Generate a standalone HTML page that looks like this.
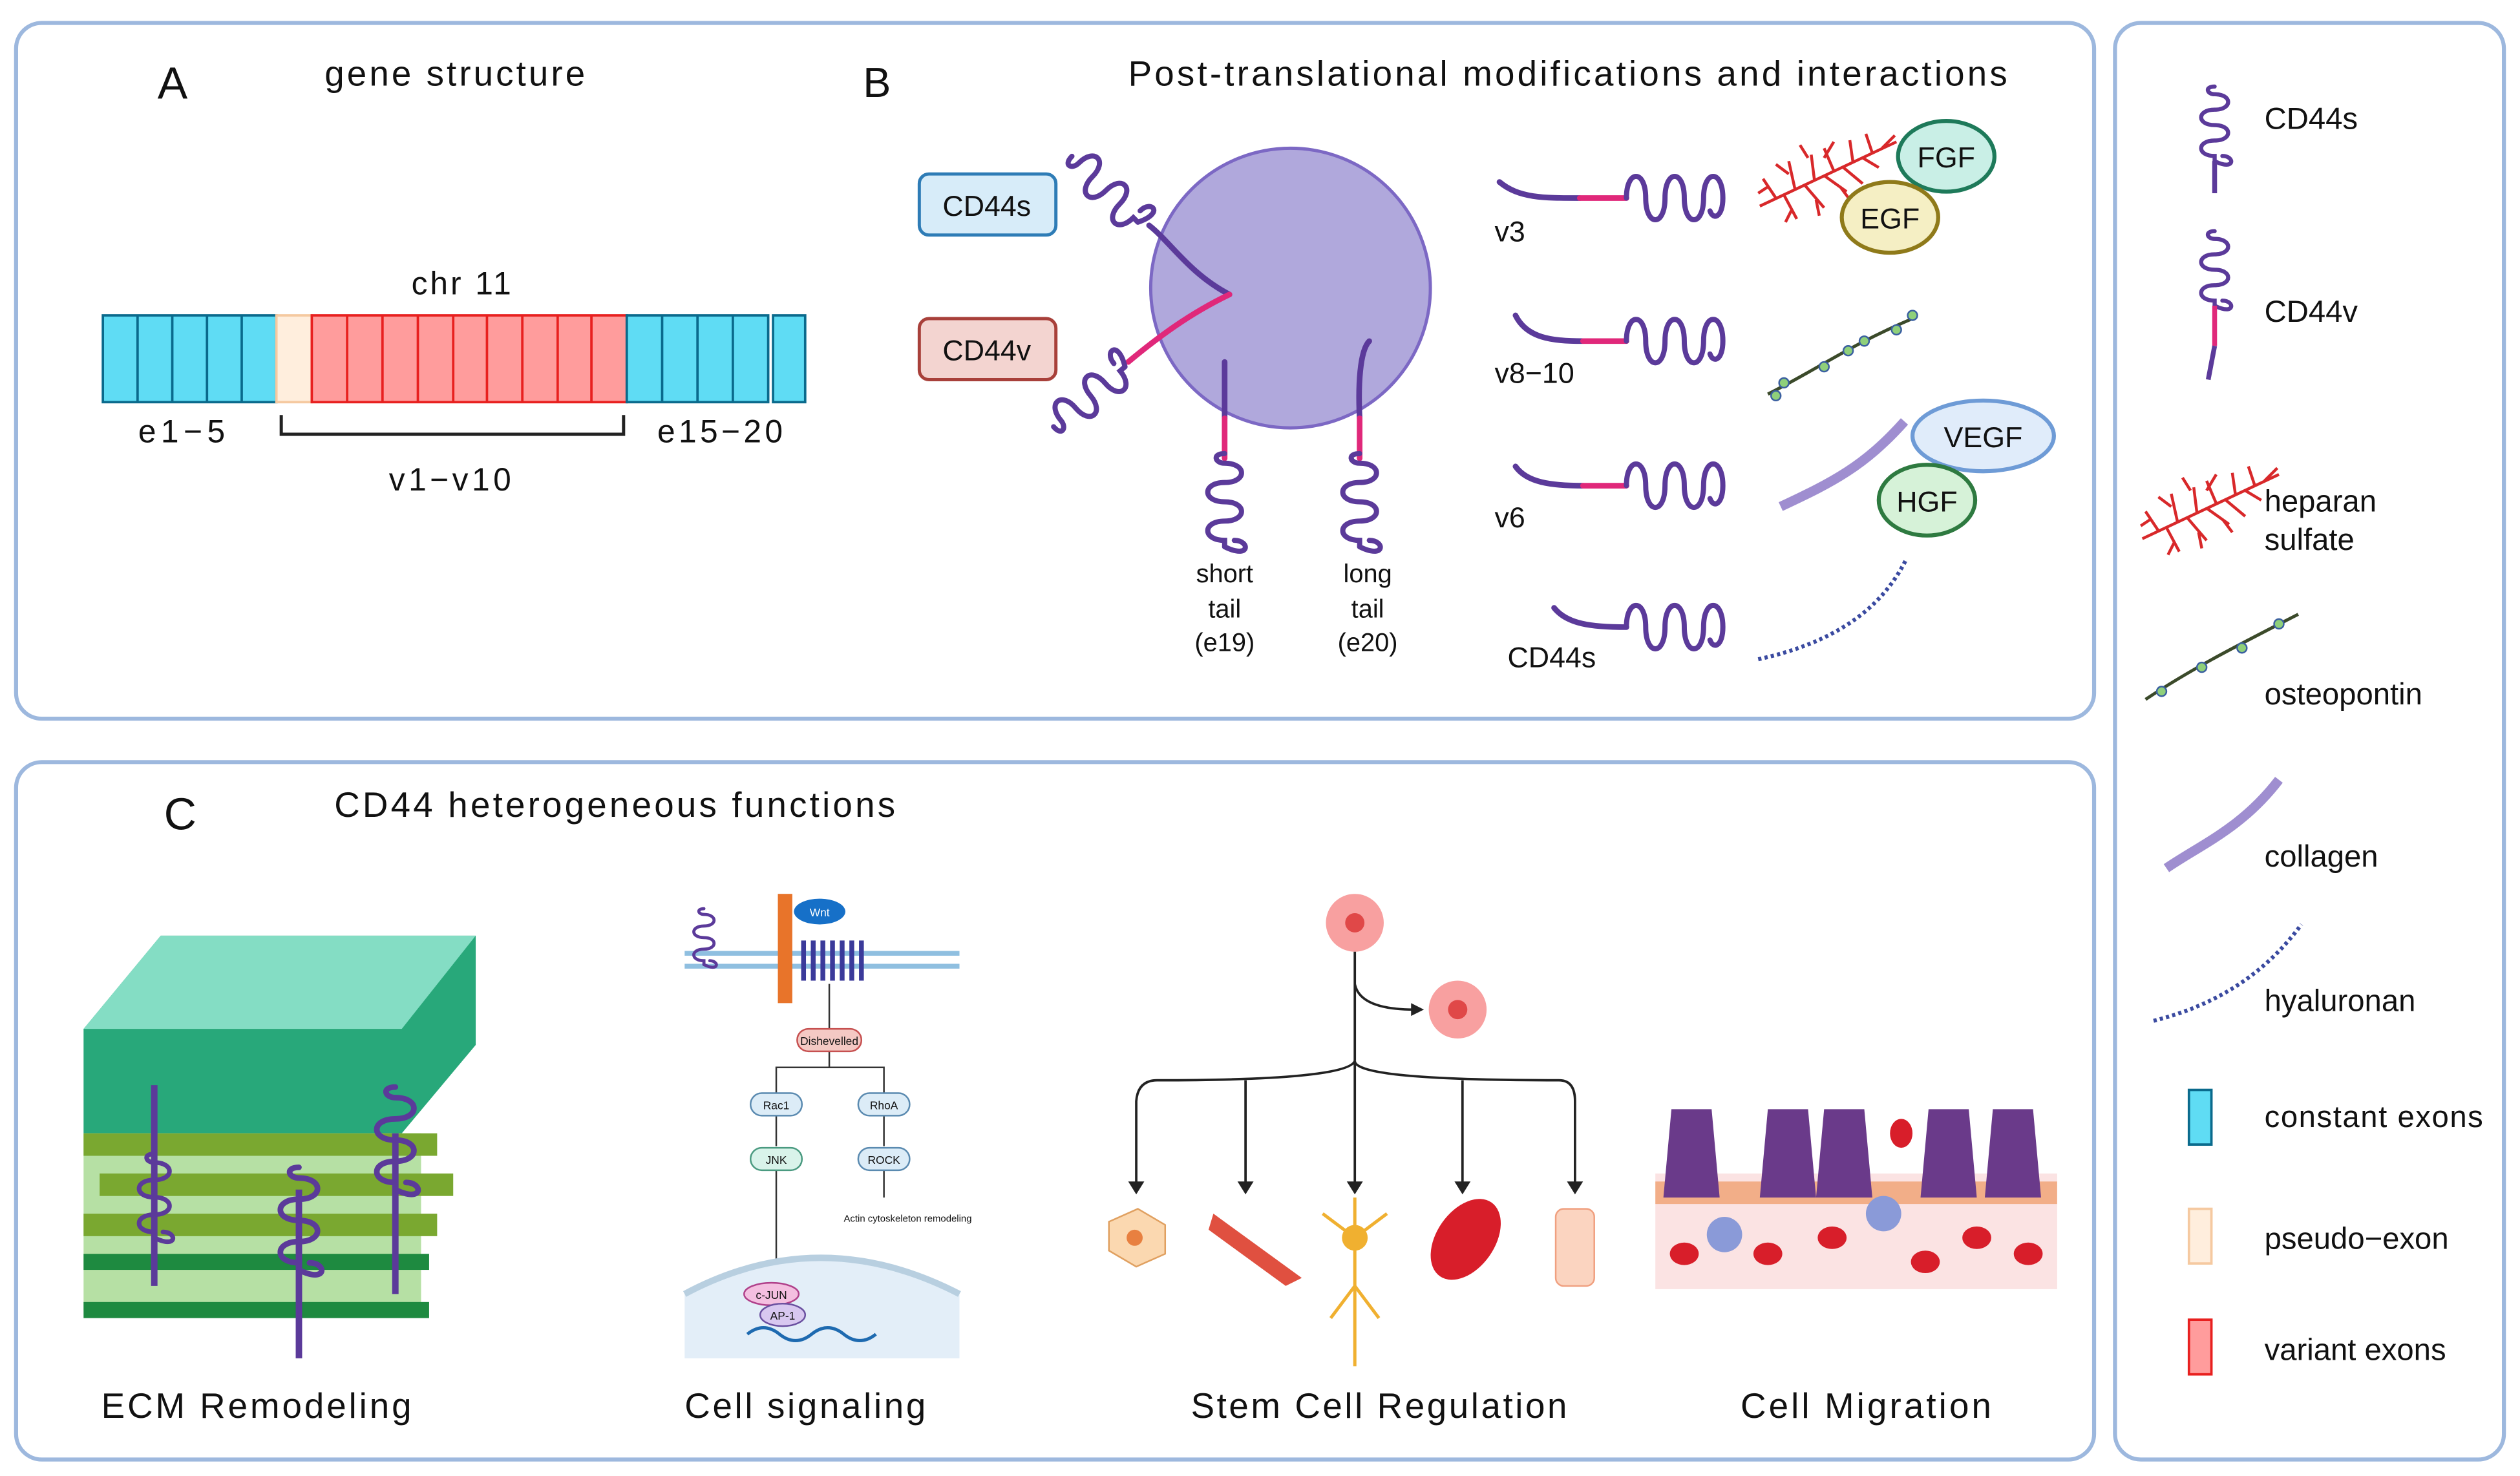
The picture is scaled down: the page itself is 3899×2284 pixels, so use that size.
<!DOCTYPE html>
<html><head><meta charset="utf-8"><style>
html,body{margin:0;padding:0;background:#fff;}
svg{display:block;}
text{font-family:"Liberation Sans",sans-serif;fill:#111;}
</style></head><body>
<svg width="3899" height="2284" viewBox="0 0 1568 918" xmlns="http://www.w3.org/2000/svg">
<defs>
<g id="sq" fill="none" stroke="#5b3a9a" stroke-width="3.2" stroke-linecap="round">
<path d="M0,0 V-4 c-14,0 -14,-12 0,-12 c14,0 14,-12 0,-12 c-14,0 -14,-12 0,-12 c14,0 14,-12 0,-12 c-6,0 -8,-6 0,-6"/>
<path d="M6,-4 c10,0 10,12 -6,4" />
</g>
<g id="hz" fill="none" stroke="#5b3a9a" stroke-width="3.2" stroke-linecap="round">
<path d="M0,0 c0,-18 12,-18 12,0 c0,18 12,18 12,0 c0,-18 12,-18 12,0 c0,18 12,18 12,0 c0,-18 12,-18 12,0 c0,12 -6,14 -8,8"/>
</g>
<g id="hep" stroke="#d8282a" stroke-width="1.8" fill="none">
<path d="M0,40 L85,0 M10,35 l-8,-12 M15,33 l8,15 M22,30 l-4,-18 M28,27 l12,14 M34,24 l-2,-16 M40,21 l14,10 M46,18 l-6,-14 M52,16 l12,10 M58,13 l-2,-14 M64,10 l10,6 M70,7 l-4,-12 M76,4 l8,-8 M18,20 l-8,-6 M30,10 l-5,-8 M40,10 l6,-10 M5,28 l-6,4 M20,42 l-4,8 M35,36 l2,10 M50,28 l6,8"/>
</g>
</defs>
<!-- panels -->
<rect x="10" y="14" width="1293" height="433" rx="16" fill="none" stroke="#9db8de" stroke-width="2.5"/>
<rect x="10" y="474" width="1293" height="434" rx="16" fill="none" stroke="#9db8de" stroke-width="2.5"/>
<rect x="1316" y="14" width="242" height="894" rx="16" fill="none" stroke="#9db8de" stroke-width="2.5"/>

<!-- A -->
<text x="98" y="61" font-size="28">A</text>
<text x="202" y="53" font-size="22" textLength="162">gene structure</text>
<text x="256" y="183" font-size="20" textLength="62">chr 11</text>
<g stroke="#0a6a8c" stroke-width="1.5">
<rect x="64" y="196" width="108" height="54" fill="#5fdcf4"/>
<rect x="172" y="196" width="22" height="54" fill="#ffeedd" stroke="#f5c9a0"/>
<rect x="194" y="196" width="196" height="54" fill="#ff9c9c" stroke="#e8201f"/>
<rect x="390" y="196" width="88" height="54" fill="#5fdcf4"/>
<rect x="481" y="196" width="20" height="54" fill="#5fdcf4"/>
</g>
<g stroke="#0a6a8c" stroke-width="1.5">
<line x1="85.6" y1="196" x2="85.6" y2="250"/><line x1="107.2" y1="196" x2="107.2" y2="250"/><line x1="128.8" y1="196" x2="128.8" y2="250"/><line x1="150.4" y1="196" x2="150.4" y2="250"/>
<line x1="412" y1="196" x2="412" y2="250"/><line x1="434" y1="196" x2="434" y2="250"/><line x1="456" y1="196" x2="456" y2="250"/>
</g>
<g stroke="#e8201f" stroke-width="1.5">
<line x1="216" y1="196" x2="216" y2="250"/><line x1="238" y1="196" x2="238" y2="250"/><line x1="260" y1="196" x2="260" y2="250"/><line x1="282" y1="196" x2="282" y2="250"/><line x1="303" y1="196" x2="303" y2="250"/><line x1="325" y1="196" x2="325" y2="250"/><line x1="347" y1="196" x2="347" y2="250"/><line x1="368" y1="196" x2="368" y2="250"/>
</g>
<path d="M175,258 V270 H388 V258" fill="none" stroke="#222" stroke-width="2"/>
<text x="86" y="275" font-size="20" textLength="54">e1−5</text>
<text x="409" y="275" font-size="20" textLength="78">e15−20</text>
<text x="242" y="305" font-size="20" textLength="76">v1−v10</text>

<!-- B -->
<text x="537" y="60" font-size="26">B</text>
<text x="702" y="53" font-size="22" textLength="547">Post-translational modifications and interactions</text>
<rect x="572" y="108" width="85" height="38" rx="6" fill="#d7ecf9" stroke="#2e7cb6" stroke-width="2"/>
<text x="614" y="134" font-size="18" text-anchor="middle">CD44s</text>
<rect x="572" y="198" width="85" height="38" rx="6" fill="#f3d4d0" stroke="#a8403a" stroke-width="2"/>
<text x="614" y="224" font-size="18" text-anchor="middle">CD44v</text>
<circle cx="803" cy="179" r="87" fill="#b0a8dc" stroke="#7c68c4" stroke-width="2"/>
<g fill="none" stroke-width="3.5" stroke-linecap="round">
<path d="M765,183 C740,170 728,150 715,140" stroke="#5b3a9a"/>
<path d="M765,183 C740,195 720,210 702,225" stroke="#e0287a"/>
<path d="M762,225 V260" stroke="#5b3a9a"/><path d="M762,260 V285" stroke="#e0287a"/>
<path d="M852,212 C846,218 845,240 846,260" stroke="#5b3a9a"/><path d="M846,260 V285" stroke="#e0287a"/>
</g>
<use href="#sq" transform="translate(708,138) rotate(-45)"/>
<use href="#sq" transform="translate(700,228) rotate(-130)"/>
<use href="#sq" transform="translate(762,340)"/>
<use href="#sq" transform="translate(846,340)"/>
<text x="762" y="362" font-size="16" text-anchor="middle">short</text>
<text x="762" y="384" font-size="16" text-anchor="middle">tail</text>
<text x="762" y="405" font-size="16" text-anchor="middle">(e19)</text>
<text x="851" y="362" font-size="16" text-anchor="middle">long</text>
<text x="851" y="384" font-size="16" text-anchor="middle">tail</text>
<text x="851" y="405" font-size="16" text-anchor="middle">(e20)</text>

<g fill="none" stroke-width="3.5" stroke-linecap="round">
<path d="M933,113 C945,123 960,123 983,123" stroke="#5b3a9a"/><path d="M983,123 H1012" stroke="#e0287a"/>
<path d="M943,196 C950,210 965,212 985,212" stroke="#5b3a9a"/><path d="M985,212 H1012" stroke="#e0287a"/>
<path d="M943,290 C950,300 965,302 985,302" stroke="#5b3a9a"/><path d="M985,302 H1012" stroke="#e0287a"/>
<path d="M967,378 C975,388 990,390 1012,390" stroke="#5b3a9a"/>
</g>
<use href="#hz" transform="translate(1012,123)"/>
<use href="#hz" transform="translate(1012,212)"/>
<use href="#hz" transform="translate(1012,302)"/>
<use href="#hz" transform="translate(1012,390)"/>
<text x="930" y="150" font-size="18">v3</text>
<text x="930" y="238" font-size="18">v8−10</text>
<text x="930" y="328" font-size="18">v6</text>
<text x="938" y="415" font-size="18">CD44s</text>
<use href="#hep" transform="translate(1095,88)"/>
<ellipse cx="1211" cy="97" rx="30" ry="22" fill="#c9efe6" stroke="#1e7a5a" stroke-width="2.5"/>
<text x="1211" y="104" font-size="18" text-anchor="middle">FGF</text>
<ellipse cx="1176" cy="135" rx="30" ry="22" fill="#f5efc4" stroke="#8f7a1a" stroke-width="2.5"/>
<text x="1176" y="142" font-size="18" text-anchor="middle">EGF</text>
<path d="M1100,245 C1130,230 1150,215 1190,198" stroke="#3b4a2a" stroke-width="2" fill="none"/>
<g fill="#8fd07a" stroke="#3a5fa0" stroke-width="1"><circle cx="1110" cy="238" r="3"/><circle cx="1135" cy="228" r="3"/><circle cx="1160" cy="212" r="3"/><circle cx="1180" cy="205" r="3"/><circle cx="1150" cy="218" r="3"/><circle cx="1105" cy="246" r="3"/><circle cx="1190" cy="196" r="3"/></g>
<path d="M1108,315 C1140,300 1160,290 1185,262" stroke="#9f8ed0" stroke-width="6" fill="none"/>
<ellipse cx="1234" cy="271" rx="44" ry="22" fill="#e0ecfa" stroke="#6e9bd6" stroke-width="2.5"/>
<text x="1234" y="278" font-size="18" text-anchor="middle">VEGF</text>
<ellipse cx="1199" cy="311" rx="30" ry="22" fill="#d6f2d8" stroke="#2e7a40" stroke-width="2.5"/>
<text x="1199" y="318" font-size="18" text-anchor="middle">HGF</text>
<path d="M1094,410 C1140,400 1170,380 1186,348" stroke="#3a4aa0" stroke-width="2.5" stroke-dasharray="2,2" fill="none"/>

<!-- legend -->
<use href="#sq" transform="translate(1378,100) scale(0.8)"/>
<path d="M1378,100 V120" stroke="#5b3a9a" stroke-width="3"/>
<text x="1409" y="80" font-size="19">CD44s</text>
<use href="#sq" transform="translate(1378,190) scale(0.8)"/>
<path d="M1378,190 V215" stroke="#e0287a" stroke-width="3"/><path d="M1378,215 L1374,236" stroke="#5b3a9a" stroke-width="3"/>
<text x="1409" y="200" font-size="19">CD44v</text>
<use href="#hep" transform="translate(1333,295)"/>
<text x="1409" y="318" font-size="19">heparan</text>
<text x="1409" y="342" font-size="19">sulfate</text>
<path d="M1335,435 C1365,415 1395,400 1430,382" stroke="#3b4a2a" stroke-width="2" fill="none"/>
<g fill="#8fd07a" stroke="#3a5fa0"><circle cx="1345" cy="430" r="3"/><circle cx="1370" cy="415" r="3"/><circle cx="1395" cy="403" r="3"/><circle cx="1418" cy="388" r="3"/></g>
<text x="1409" y="438" font-size="19">osteopontin</text>
<path d="M1348,540 C1370,525 1395,515 1418,485" stroke="#9f8ed0" stroke-width="6" fill="none"/>
<text x="1409" y="539" font-size="19">collagen</text>
<path d="M1340,635 C1380,625 1410,605 1432,575" stroke="#3a4aa0" stroke-width="2.5" stroke-dasharray="2,2" fill="none"/>
<text x="1409" y="629" font-size="19">hyaluronan</text>
<rect x="1362" y="678" width="14" height="34" fill="#5fdcf4" stroke="#0a6a8c" stroke-width="1.5"/>
<text x="1409" y="701" font-size="19" textLength="136">constant exons</text>
<rect x="1362" y="752" width="14" height="34" fill="#ffeedd" stroke="#f5c9a0" stroke-width="1.5"/>
<text x="1409" y="777" font-size="19">pseudo−exon</text>
<rect x="1362" y="821" width="14" height="34" fill="#ff9c9c" stroke="#e8201f" stroke-width="1.5"/>
<text x="1409" y="846" font-size="19">variant exons</text>

<!-- C -->
<text x="102" y="516" font-size="28">C</text>
<text x="208" y="508" font-size="22" textLength="349">CD44 heterogeneous functions</text>
<path d="M52,640 L100,582 H296 V650 L250,705 H52 Z" fill="#28a87a"/>
<path d="M52,640 L100,582 H296 L250,640 Z" fill="#8ee2cc" opacity="0.9"/>
<rect x="52" y="705" width="210" height="110" fill="#b6e0a4"/>
<g fill="#7aa830"><rect x="52" y="705" width="220" height="14"/><rect x="62" y="730" width="220" height="14"/><rect x="52" y="755" width="220" height="14"/></g>
<g fill="#1e8a40"><rect x="52" y="780" width="215" height="10"/><rect x="52" y="810" width="215" height="10"/></g>
<g fill="none" stroke="#5b3a9a" stroke-width="4"><path d="M96,675 V800"/><path d="M186,740 V845"/><path d="M246,705 V805"/></g>
<use href="#sq" transform="translate(96,770) scale(0.9)"/><use href="#sq" transform="translate(186,790) scale(1.1)"/><use href="#sq" transform="translate(246,740) scale(1.1)"/>
<text x="63" y="882" font-size="22" textLength="193">ECM Remodeling</text>
<path d="M426,593 H597 M426,601 H597" stroke="#8fbfe0" stroke-width="3"/>
<rect x="484" y="556" width="9" height="68" fill="#e8742a"/>
<ellipse cx="510" cy="567" rx="16" ry="8" fill="#1670c8"/><text x="510" y="570" font-size="7" text-anchor="middle" style="fill:#fff">Wnt</text>
<path d="M500,585 v25 M506,585 v25 M512,585 v25 M518,585 v25 M524,585 v25 M530,585 v25 M536,585 v25" stroke="#3b3a9a" stroke-width="3"/>
<use href="#sq" transform="translate(438,600) scale(0.6)"/>
<path d="M516,612 V640 M516,654 V664 H483 V680 M516,664 H550 V680 M483,694 V713 M550,694 V713 M483,728 V800 M550,728 V745" stroke="#333" stroke-width="1" fill="none"/>
<rect x="496" y="640" width="40" height="14" rx="7" fill="#f4c9c4" stroke="#c65050"/><text x="516" y="650" font-size="7" text-anchor="middle">Dishevelled</text>
<rect x="467" y="680" width="32" height="14" rx="7" fill="#dcecf7" stroke="#5a8ab0"/><text x="483" y="690" font-size="7" text-anchor="middle">Rac1</text>
<rect x="534" y="680" width="32" height="14" rx="7" fill="#dcecf7" stroke="#5a8ab0"/><text x="550" y="690" font-size="7" text-anchor="middle">RhoA</text>
<rect x="467" y="714" width="32" height="14" rx="7" fill="#d9f3ea" stroke="#4a9a80"/><text x="483" y="724" font-size="7" text-anchor="middle">JNK</text>
<rect x="534" y="714" width="32" height="14" rx="7" fill="#dcecf7" stroke="#5a8ab0"/><text x="550" y="724" font-size="7" text-anchor="middle">ROCK</text>
<text x="525" y="760" font-size="6">Actin cytoskeleton remodeling</text>
<path d="M426,805 Q510,760 597,805 V845 H426 Z" fill="#e3eef8"/>
<path d="M426,805 Q510,760 597,805" stroke="#b8cfe0" stroke-width="4" fill="none"/>
<ellipse cx="480" cy="805" rx="17" ry="7" fill="#f4bfe0" stroke="#b0408a"/><text x="480" y="808" font-size="7" text-anchor="middle">c-JUN</text>
<ellipse cx="487" cy="818" rx="14" ry="7" fill="#d8c8f0" stroke="#6a50a0"/><text x="487" y="821" font-size="7" text-anchor="middle">AP-1</text>
<path d="M465,830 q10,-8 20,0 t20,0 t20,0 t20,0" stroke="#1e6ab0" stroke-width="2" fill="none"/>
<text x="426" y="882" font-size="22" textLength="150">Cell signaling</text>
<circle cx="843" cy="574" r="18" fill="#f8a0a0"/><circle cx="843" cy="574" r="6" fill="#e04848"/>
<circle cx="907" cy="628" r="18" fill="#f8a0a0"/><circle cx="907" cy="628" r="6" fill="#e04848"/>
<g stroke="#222" stroke-width="1.5" fill="none">
<path d="M843,592 V660 M843,612 Q846,628 880,628"/>
<path d="M843,660 Q838,672 720,672 Q708,672 707,685 V738 M843,660 Q843,672 970,672 Q980,672 980,685 V738 M775,672 V738 M843,660 V738 M910,672 V738"/>
</g>
<g fill="#222"><path d="M702,735 l5,8 l5,-8z M770,735 l5,8 l5,-8z M838,735 l5,8 l5,-8z M905,735 l5,8 l5,-8z M975,735 l5,8 l5,-8z M878,624 l8,4 l-8,4z"/></g>
<path d="M690,760 l18,-8 l17,10 v18 l-18,8 l-17,-10z" fill="#fbd8b0" stroke="#e0a060"/><circle cx="706" cy="770" r="5" fill="#e88040"/>
<path d="M755,755 L810,795 L800,800 L752,765z" fill="#e05040"/>
<path d="M843,745 V850 M843,770 l-20,-15 M843,770 l20,-15 M843,800 l-15,20 M843,800 l15,20" stroke="#f0b030" stroke-width="2"/><circle cx="843" cy="770" r="8" fill="#f0b030"/>
<ellipse cx="912" cy="771" rx="18" ry="28" transform="rotate(35 912 771)" fill="#d81e2a"/>
<rect x="968" y="752" width="24" height="48" rx="5" fill="#fbd4c0" stroke="#f0a080"/>
<text x="741" y="882" font-size="22" textLength="234">Stem Cell Regulation</text>
<rect x="1030" y="730" width="250" height="72" fill="#fbe3e3"/>
<rect x="1030" y="735" width="250" height="14" fill="#f0a070" opacity="0.8"/>
<g fill="#6a3a8a"><path d="M1040,690 h25 l5,55 h-35z"/><path d="M1100,690 h25 l5,55 h-35z"/><path d="M1135,690 h25 l5,55 h-35z"/><path d="M1200,690 h25 l5,55 h-35z"/><path d="M1240,690 h25 l5,55 h-35z"/></g>
<g fill="#d81e2a"><ellipse cx="1048" cy="780" rx="9" ry="7"/><ellipse cx="1100" cy="780" rx="9" ry="7"/><ellipse cx="1140" cy="770" rx="9" ry="7"/><ellipse cx="1198" cy="785" rx="9" ry="7"/><ellipse cx="1230" cy="770" rx="9" ry="7"/><ellipse cx="1262" cy="780" rx="9" ry="7"/><ellipse cx="1183" cy="705" rx="7" ry="9"/></g>
<circle cx="1073" cy="768" r="11" fill="#8a9ad8"/><circle cx="1172" cy="755" r="11" fill="#8a9ad8"/>
<text x="1083" y="882" font-size="22" textLength="156">Cell Migration</text>
</svg>
</body></html>
